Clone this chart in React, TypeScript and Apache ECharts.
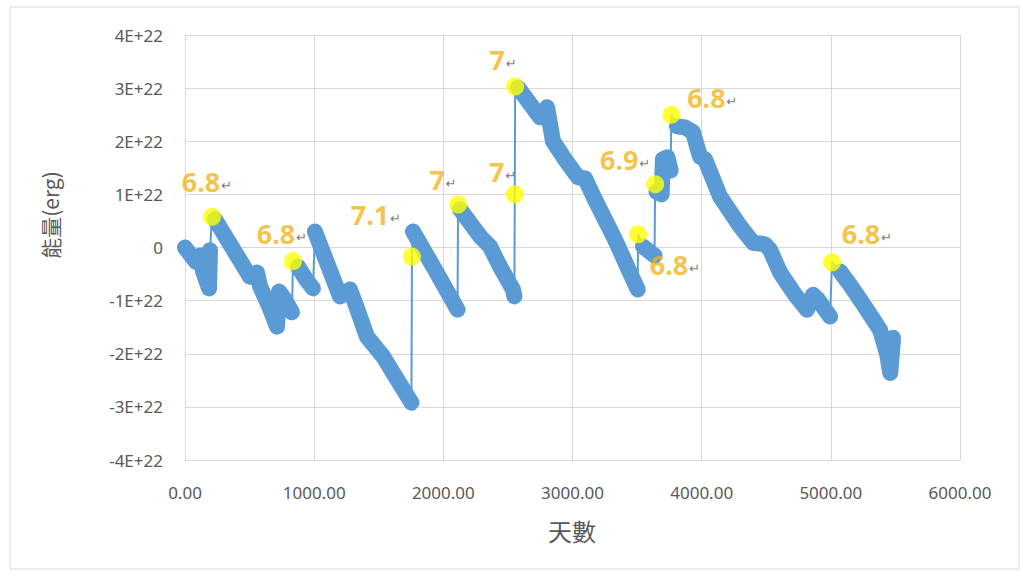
import React, { useEffect, useRef } from "react";
import * as echarts from "echarts";

// x axis: days; y axis: energy in units of 1E+22 erg
const xAxisMin = 0;
const xAxisMax = 6000;
const xAxisStep = 1000;
const yAxisMin = -4;
const yAxisMax = 4;
const yAxisStep = 1;

// continuous stretches of the cumulative energy curve (days / energy in 1E+22 erg)
const segmentDays: number[][] = [
  [0, 85, 116, 140, 186, 194],
  [232, 503, 557, 581, 650, 712, 728, 774, 828],
  [875, 937, 991],
  [1006, 1200, 1277, 1316, 1409, 1533, 1753],
  [1765, 1936, 2110],
  [2129, 2284, 2361, 2439, 2539, 2550],
  [2578, 2748, 2803, 2849, 2942, 3043, 3097, 3174, 3329, 3461, 3505],
  [3546, 3635],
  [3650, 3690, 3700, 3735, 3760],
  [3809, 3871, 3933, 3987, 4026, 4142, 4297, 4398, 4491, 4529, 4607, 4723, 4816, 4862, 4901, 4994],
  [5071, 5148, 5226, 5303, 5381, 5435, 5460, 5482],
];
const segmentEnergy: number[][] = [
  [0, -0.27, -0.15, -0.45, -0.77, -0.05],
  [0.53, -0.55, -0.47, -0.73, -1.1, -1.49, -0.83, -0.98, -1.22],
  [-0.36, -0.6, -0.77],
  [0.3, -0.92, -0.79, -1.04, -1.68, -2.05, -2.92],
  [0.3, -0.42, -1.17],
  [0.72, 0.21, 0.02, -0.36, -0.79, -0.92],
  [3.01, 2.45, 2.64, 2.0, 1.66, 1.32, 1.3, 0.9, 0.15, -0.56, -0.79],
  [0.02, -0.15],
  [1.05, 1.0, 1.66, 1.7, 1.45],
  [2.28, 2.26, 2.17, 1.71, 1.66, 0.96, 0.4, 0.09, 0.06, -0.04, -0.47, -0.89, -1.17, -0.89, -0.98, -1.3],
  [-0.45, -0.7, -0.98, -1.26, -1.55, -2.0, -2.36, -1.7],
];

// large earthquakes (yellow dots)
const eventDays = [209, 836, 1757, 2114, 2553, 2556, 3507, 3640, 3765, 5009];
const eventEnergy = [0.58, -0.26, -0.17, 0.81, 1.0, 3.03, 0.25, 1.19, 2.5, -0.28];
const eventMagnitude = ["6.8", "6.8", "7.1", "7", "7", "7", "6.8", "6.9", "6.8", "6.8"];

// label placement (layout only)
const eventLabelOffset: number[][] = [
  [-5, -35], [-11, -28], [-36, -42], [-15, -25], [-12, -23],
  [-12, -27], [37, 30], [-30, -25], [41, -17], [35, -29],
];

const BLUE = "#5B9BD5";
const GOLD = "#F2B41A";
const GRID = "#D9D9D9";
const AXIS_TEXT = "#595959";

export default function App() {
  const ref = useRef<HTMLDivElement>(null);

  useEffect(() => {
    const chart = echarts.init(ref.current!, null, { renderer: "svg" });

    const allPoints: number[][] = [];
    segmentDays.forEach((days, s) =>
      days.forEach((d, i) => allPoints.push([d, segmentEnergy[s][i]]))
    );
    eventDays.forEach((d, i) => allPoints.push([d, eventEnergy[i]]));
    allPoints.sort((a, b) => a[0] - b[0]);

    const thickSeries = segmentDays.map((days, s) => ({
      type: "line",
      data: days.map((d, i) => [d, segmentEnergy[s][i]]),
      symbol: "none",
      silent: true,
      z: 3,
      lineStyle: { color: BLUE, width: 16, cap: "round", join: "round" },
    }));

    const option: any = {
      animation: false,
      backgroundColor: "#fff",
      grid: { left: 185, right: 67, top: 35, bottom: 116 },
      xAxis: {
        type: "value",
        min: xAxisMin,
        max: xAxisMax,
        interval: xAxisStep,
        axisLine: { show: true, onZero: false, lineStyle: { color: GRID } },
        axisTick: { show: false },
        splitLine: { show: true, lineStyle: { color: GRID, width: 1 } },
        axisLabel: {
          color: AXIS_TEXT,
          fontSize: 17,
          fontFamily: "Noto Sans",
          margin: 24,
          formatter: (v: number) => v.toFixed(2),
        },
      },
      yAxis: {
        type: "value",
        min: yAxisMin,
        max: yAxisMax,
        interval: yAxisStep,
        axisLine: { show: true, lineStyle: { color: GRID } },
        axisTick: { show: false },
        splitLine: { show: true, lineStyle: { color: GRID, width: 1 } },
        axisLabel: {
          color: AXIS_TEXT,
          fontSize: 17,
          fontFamily: "Noto Sans",
          margin: 22,
          formatter: (v: number) => (v === 0 ? "0" : `${v}E+22`),
        },
      },
      graphic: [
        {
          type: "rect",
          shape: { x: 10, y: 7, width: 1009, height: 562 },
          style: { fill: "none", stroke: GRID, lineWidth: 1 },
          silent: true,
          z: -10,
        },
        {
          type: "text",
          x: 50,
          y: 215,
          rotation: Math.PI / 2,
          style: {
            text: "能量(erg)",
            fill: AXIS_TEXT,
            font: '21px "Noto Sans CJK TC"',
            textAlign: "center",
            textVerticalAlign: "middle",
          },
        },
        {
          type: "text",
          x: 572,
          y: 530,
          style: {
            text: "天數",
            fill: AXIS_TEXT,
            font: '24px "Noto Sans CJK TC"',
            textAlign: "center",
            textVerticalAlign: "middle",
          },
        },
      ],
      series: [
        {
          type: "line",
          data: allPoints,
          symbol: "none",
          silent: true,
          z: 2,
          lineStyle: { color: BLUE, width: 2 },
        },
        ...thickSeries,
        {
          type: "scatter",
          z: 5,
          symbol: "circle",
          symbolSize: 18,
          itemStyle: { color: "#FFFF00" },
          data: eventDays.map((d, i) => ({
            value: [d, eventEnergy[i]],
            label: {
              show: true,
              position: "inside",
              offset: eventLabelOffset[i],
              formatter: `{m|${eventMagnitude[i]}}{r|↵}`,
              rich: {
                m: {
                  fontSize: 27,
                  fontWeight: "bold",
                  color: GOLD,
                  fontFamily: "Noto Sans",
                },
                r: {
                  fontSize: 13,
                  color: "#555",
                  fontFamily: "DejaVu Sans",
                  padding: [8, 0, 0, 1],
                },
              },
            },
          })),
        },
      ],
    };

    chart.setOption(option);
    return () => chart.dispose();
  }, []);

  return (
    <div
      ref={ref}
      style={{ position: "absolute", left: 0, top: 0, width: 1027, height: 576, background: "#fff" }}
    />
  );
}
